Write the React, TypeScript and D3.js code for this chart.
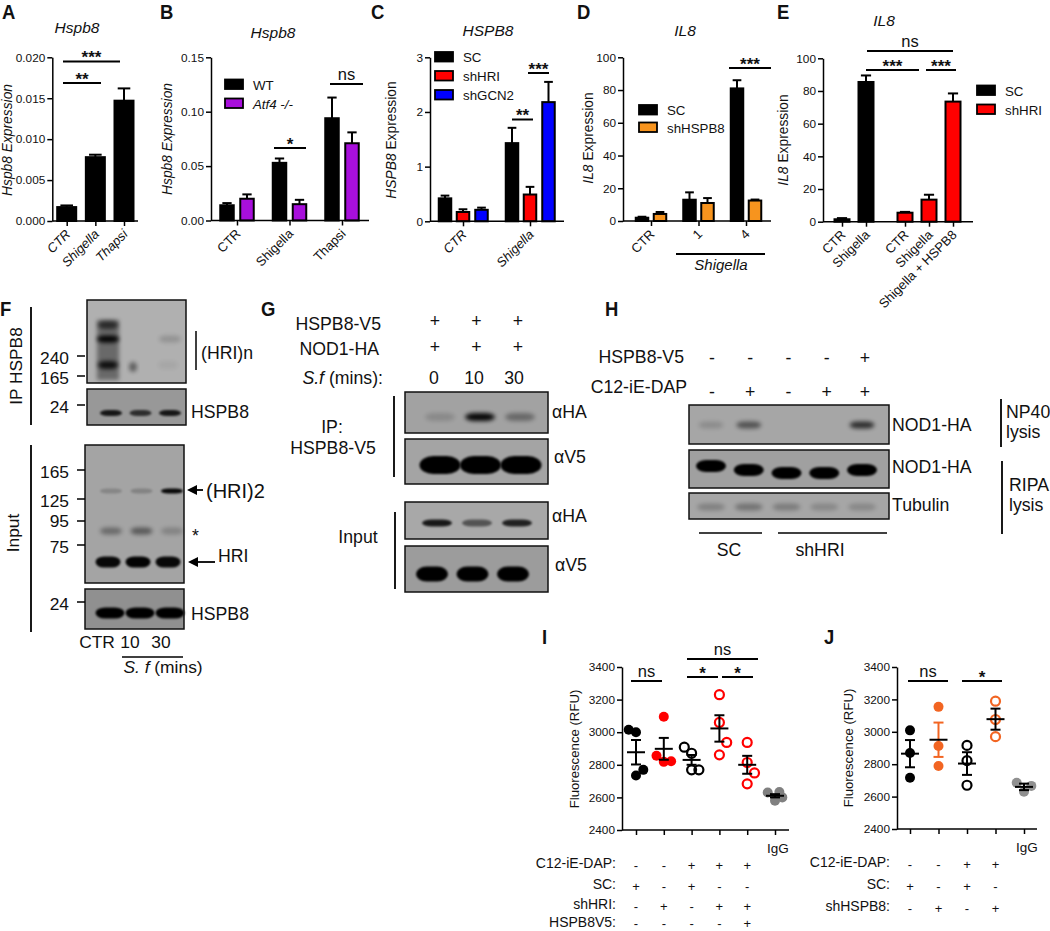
import React, { useEffect, useRef } from "react";
import * as d3 from "d3";

const FONT = "'Liberation Sans', Arial, sans-serif";
const BLOT_PX = 17.7;

// ---- bar panels ----
const aCats = ["CTR", "Shigella", "Thapsi"];
const aValues = [0.0017, 0.0078, 0.0147];
const aSem = [0.0002, 0.0003, 0.0015];
const aTicks = [0, 0.005, 0.01, 0.015, 0.02];

const bCats = ["CTR", "Shigella", "Thapsi"];
const bWT = [0.014, 0.053, 0.094];
const bWTSem = [0.002, 0.004, 0.019];
const bAtf4 = [0.02, 0.015, 0.071];
const bAtf4Sem = [0.004, 0.004, 0.01];
const bTicks = [0, 0.05, 0.1, 0.15];

const cCats = ["CTR", "Shigella"];
const cSC = [0.42, 1.43];
const cSCSem = [0.05, 0.28];
const cHRI = [0.17, 0.49];
const cHRISem = [0.05, 0.14];
const cGCN2 = [0.21, 2.18];
const cGCN2Sem = [0.04, 0.37];
const cTicks = [0, 1, 2, 3];

const dCats = ["CTR", "1", "4"];
const dSC = [2, 13, 81];
const dSCSem = [0.6, 4.5, 5];
const dHSPB8 = [4.3, 11, 12.5];
const dHSPB8Sem = [1.2, 3, 0.6];
const pctTicks = [0, 20, 40, 60, 80, 100];

const eSCCats = ["CTR", "Shigella"];
const eSC = [1.5, 85.5];
const eSCSem = [0.7, 4];
const eHRICats = ["CTR ", "Shigella ", "Shigella + HSPB8"];
const eHRI = [5.5, 13.5, 73.5];
const eHRISem = [0.5, 3, 5];

// ---- scatter panels ----
const rfuTicks = [2400, 2600, 2800, 3000, 3200, 3400];

const iPoints = [
  [3015, 3000, 2769, 2734],
  [3095, 2855, 2818, 2822],
  [2908, 2871, 2769, 2769],
  [3230, 3060, 2937, 2861],
  [2937, 2814, 2750, 2683],
  [2630, 2633, 2580, 2600],
];
const iSwarm = [
  [-1, 0, 1, 0],
  [0, -1, 0, 1],
  [-1, 0, 0, 1],
  [0, 0, 1, 0],
  [0, 0, 1, 0],
  [-1, 0.6, 0, 1],
];
const iMeans = [2877, 2898, 2830, 3023, 2800, 2610];
const iSem = [75, 67, 30, 81, 55, 10];
const iColors = ["#000000", "#ff0000", "#000000", "#ff0000", "#ff0000", "#808080"];
const iOpen = [false, false, true, true, true, false];
const iRows = [
  ["-", "-", "+", "+", "+"],
  ["+", "-", "+", "-", "-"],
  ["-", "+", "-", "+", "+"],
  ["-", "-", "-", "-", "+"],
];
const iRowLabels = ["C12-iE-DAP:", "SC:", "shHRI:", "HSPB8V5:"];

const jPoints = [
  [3009, 2869, 2716],
  [3154, 2912, 2789],
  [2916, 2822, 2670],
  [3189, 3076, 2970],
  [2685, 2630, 2666],
];
const jSwarm = [
  [0, 0, 0],
  [0, 0, 0],
  [0, 0, 0],
  [0, 0, 0],
  [-1, 0, 1],
];
const jMeans = [2865, 2951, 2804, 3078, 2660];
const jSem = [84, 106, 70, 65, 20];
const jColors = ["#000000", "#f26522", "#000000", "#f26522", "#909090"];
const jOpen = [false, false, true, true, false];
const jRows = [
  ["-", "-", "+", "+"],
  ["+", "-", "+", "-"],
  ["-", "+", "-", "+"],
];
const jRowLabels = ["C12-iE-DAP:", "SC:", "shHSPB8:"];

// ---- blot band strengths, one per lane ----
const fIpHigh = [0.6, 0, 0];
const fIpMid = [0.98, 0, 0.16];
const fIpLow = [0.85, 0, 0.05];
const fIpHspb8 = [0.85, 0.7, 0.85];
const fDimer = [0.18, 0.2, 0.95];
const fStar = [0.35, 0.45, 0.2];
const fMono = [0.95, 0.98, 0.95];
const fInHspb8 = [1, 1, 1];
const gIpHA = [0.15, 0.95, 0.35];
const gIpV5 = [1, 1, 1];
const gInHA = [0.85, 0.5, 0.8];
const gInV5 = [1, 1, 1];
const hNp40 = [0.15, 0.5, 0, 0, 0.72];
const hRipa = [1, 1, 1, 1, 1];
const hRipaShift = [-7, -3, 0, 0, -3];
const hTub = [0.22, 0.3, 0.25, 0.18, 0.18];

const line = (g: any, x1: number, y1: number, x2: number, y2: number, w = 2, c = "#000") =>
  g.append("line")
    .attr("x1", x1).attr("y1", y1).attr("x2", x2).attr("y2", y2)
    .attr("stroke", c).attr("stroke-width", w);

const label = (
  g: any, x: number, y: number, str: string, size = 13,
  anchor = "start", italic = false, weight = "normal",
) =>
  g.append("text")
    .attr("x", x).attr("y", y)
    .attr("text-anchor", anchor)
    .attr("font-size", size)
    .attr("font-style", italic ? "italic" : "normal")
    .attr("font-weight", weight)
    .attr("font-family", FONT)
    .attr("fill", "#111")
    .text(str);

// panel letters are condensed in the figure, squeeze the bold face
const letter = (g: any, x: number, y: number, s: string) =>
  label(g, 0, 0, s, 21, "start", false, "bold")
    .attr("x", null).attr("y", null)
    .attr("transform", `translate(${x},${y}) scale(0.88,1)`);

const sig = (g: any, x1: number, x2: number, y: number, txt: string) => {
  line(g, x1, y, x2, y, 2);
  if (txt === "ns") label(g, (x1 + x2) / 2, y - 4, txt, 16.5, "middle");
  else label(g, (x1 + x2) / 2, y + 1.7, txt, 17, "middle", false, "bold");
};

// vertical axis title, parts are [text, italic]
const yTitle = (g: any, x: number, y: number, parts: [string, boolean][], size = 13.8) => {
  const t = g.append("text")
    .attr("transform", `translate(${x},${y}) rotate(-90)`)
    .attr("text-anchor", "middle")
    .attr("font-size", size)
    .attr("font-family", FONT)
    .attr("fill", "#111");
  parts.forEach(([s, it]) =>
    t.append("tspan").attr("font-style", it ? "italic" : "normal").text(s));
};

const leftAxis = (g: any, y: any, x: number, ticks: number[], fmt: any, size = 11.8) => {
  const ax = g.append("g")
    .attr("transform", `translate(${x},0)`)
    .call(d3.axisLeft(y).tickValues(ticks).tickFormat(fmt).tickSize(5).tickSizeOuter(0).tickPadding(2));
  ax.select(".domain").attr("stroke", "#000").attr("stroke-width", 1.5);
  ax.selectAll("line").attr("stroke", "#000").attr("stroke-width", 1.5);
  ax.selectAll("text").attr("font-size", size).attr("font-family", FONT).attr("fill", "#111");
  return ax;
};

const bottomTicks = (g: any, x: any, y0: number, italic = false, rotated = true, size = 13) => {
  const ax = g.append("g")
    .attr("transform", `translate(0,${y0})`)
    .call(d3.axisBottom(x).tickSize(5).tickSizeOuter(0));
  ax.select(".domain").remove();
  ax.selectAll("line").attr("stroke", "#000").attr("stroke-width", 1.5);
  const txt = ax.selectAll("text")
    .attr("font-size", size)
    .attr("font-family", FONT)
    .attr("font-style", italic ? "italic" : "normal")
    .attr("fill", "#111");
  if (rotated)
    txt.attr("x", 0).attr("y", 0).attr("dy", 0)
      .attr("text-anchor", "end")
      .attr("transform", "translate(4,14) rotate(-45)");
  return ax;
};

const bars = (g: any, x: any, y: any, cats: string[], vals: number[], sem: number[], fill: string, w: number, shift = 0) => {
  const y0 = y(0);
  cats.forEach((c, i) => {
    const cx = x(c) + shift;
    line(g, cx, y(vals[i]), cx, y(vals[i] + sem[i]), 2);
    line(g, cx - w * 0.3, y(vals[i] + sem[i]), cx + w * 0.3, y(vals[i] + sem[i]), 2);
    g.append("rect")
      .attr("x", cx - w / 2 + 1).attr("y", y(vals[i]))
      .attr("width", w - 2).attr("height", y0 - y(vals[i]))
      .attr("fill", fill).attr("stroke", "#000").attr("stroke-width", 2);
  });
};

const legend = (g: any, x: number, ys: number[], names: string[], fills: string[], italics: boolean[] = [], size = 13.3) => {
  names.forEach((n, i) => {
    g.append("rect")
      .attr("x", x).attr("y", ys[i]).attr("width", 18).attr("height", 9.5)
      .attr("fill", fills[i]).attr("stroke", "#000").attr("stroke-width", 1.8);
    label(g, x + 28, ys[i] + 10, n, size, "start", !!italics[i]);
  });
};

// grey film rectangle with blurred bands
let clipN = 0;
const blot = (root: any, x: number, y: number, w: number, h: number, bg: string) => {
  const id = `blot${clipN++}`;
  root.select("defs").append("clipPath").attr("id", id)
    .append("rect").attr("x", x).attr("y", y).attr("width", w).attr("height", h);
  const g = root.append("g");
  g.append("rect").attr("x", x).attr("y", y).attr("width", w).attr("height", h).attr("fill", bg);
  const inner = g.append("g").attr("clip-path", `url(#${id})`);
  g.append("rect").attr("x", x).attr("y", y).attr("width", w).attr("height", h)
    .attr("fill", "none").attr("stroke", "#111").attr("stroke-width", 1.5);
  return inner;
};

const bandRow = (g: any, lanes: number[], cy: number, strengths: number[], bw: number, bh: number, blur = "b1", shift: number[] = []) => {
  const x = d3.scalePoint<number>().domain(strengths.map((_, i) => i)).range(lanes as [number, number]);
  strengths.forEach((s, i) => {
    if (s <= 0) return;
    g.append("rect")
      .attr("x", (x(i) as number) - bw / 2)
      .attr("y", cy - bh / 2 + (shift[i] || 0))
      .attr("width", bw).attr("height", bh)
      .attr("rx", bw / 3).attr("ry", bh / 2)
      .attr("fill", "#000").attr("opacity", s)
      .attr("filter", `url(#${blur})`);
  });
};

const signRow = (g: any, x: any, cats: any[], row: string[], cy: number, size = 13) => {
  row.forEach((s, i) => {
    label(g, x(cats[i]), cy, s, size, "middle").attr("dy", "0.35em");
  });
};

const scatter = (g: any, x: any, y: any, points: number[][], swarm: number[][], means: number[], sem: number[], colors: string[], open: boolean[]) => {
  const step = 7.3;
  points.forEach((pts, k) => {
    const cx = x(k);
    pts.forEach((v, j) => {
      const o = open[k];
      g.append("circle")
        .attr("cx", cx + swarm[k][j] * step).attr("cy", y(v))
        .attr("r", o ? 4.5 : 5)
        .attr("fill", o ? "none" : colors[k])
        .attr("stroke", o ? colors[k] : "none")
        .attr("stroke-width", 2.2);
    });
    const ec = colors[k] === "#f26522" && !open[k] ? colors[k] : "#000";
    line(g, cx, y(means[k] - sem[k]), cx, y(means[k] + sem[k]), 2, ec);
    line(g, cx - 5, y(means[k] + sem[k]), cx + 5, y(means[k] + sem[k]), 2, ec);
    line(g, cx - 5, y(means[k] - sem[k]), cx + 5, y(means[k] - sem[k]), 2, ec);
    line(g, cx - 9, y(means[k]), cx + 9, y(means[k]), 2, "#000");
  });
};

function draw(svgEl: SVGSVGElement) {
  clipN = 0;
  const svg = d3.select(svgEl);
  svg.selectAll("*").remove();
  const defs = svg.append("defs");
  [["b1", 1.2], ["b2", 2.2], ["b3", 3]].forEach(([id, s]) =>
    defs.append("filter").attr("id", id as string)
      .attr("x", "-30%").attr("y", "-60%").attr("width", "160%").attr("height", "220%")
      .append("feGaussianBlur").attr("stdDeviation", s as number));
  const root = svg.append("g");

  // A
  letter(root, 2, 19, "A");
  label(root, 77, 33, "Hspb8", 15.5, "middle", true);
  {
    const y = d3.scaleLinear().domain([0, 0.02]).range([221, 57.3]);
    const x = d3.scalePoint<string>().domain(aCats).range([66.7, 124]);
    bars(root, x, y, aCats, aValues, aSem, "#000", 21);
    line(root, 52.3, 221, 138, 221, 1.5);
    leftAxis(root, y, 52.3, aTicks, d3.format(".3f"));
    bottomTicks(root, x, 221, true);
    yTitle(root, 12, 140, [["Hspb8 Expression", true]]);
    sig(root, 63, 120, 61.5, "***");
    sig(root, 63, 101, 83, "**");
  }

  // B
  letter(root, 160, 19, "B");
  label(root, 273, 38, "Hspb8", 15.5, "middle", true);
  {
    const y = d3.scaleLinear().domain([0, 0.15]).range([220.5, 57.3]);
    const x = d3.scalePoint<string>().domain(bCats).range([237, 342]);
    bars(root, x, y, bCats, bWT, bWTSem, "#000", 15.5, -10);
    bars(root, x, y, bCats, bAtf4, bAtf4Sem, "#a80fdc", 15.5, 10);
    line(root, 211, 220.5, 369, 220.5, 1.5);
    leftAxis(root, y, 211, bTicks, d3.format(".2f"));
    bottomTicks(root, x, 220.5);
    yTitle(root, 172, 139, [["Hspb8 Expression", true]]);
    legend(root, 225, [79.5, 98.5], ["WT", "Atf4 -/-"], ["#000", "#a80fdc"], [false, true]);
    sig(root, 274, 306, 148, "*");
    sig(root, 330, 363, 84, "ns");
  }

  // C
  letter(root, 371, 19, "C");
  label(root, 488, 36, "HSPB8", 15.5, "middle", true);
  {
    const y = d3.scaleLinear().domain([0, 3]).range([221.3, 57.3]);
    const x = d3.scalePoint<string>().domain(cCats).range([463, 530]);
    bars(root, x, y, cCats, cSC, cSCSem, "#000", 14.5, -18);
    bars(root, x, y, cCats, cHRI, cHRISem, "#ff0000", 14.5, 0);
    bars(root, x, y, cCats, cGCN2, cGCN2Sem, "#0000ff", 14.5, 18.5);
    line(root, 430, 221.3, 564, 221.3, 1.5);
    leftAxis(root, y, 430, cTicks, d3.format("d"));
    bottomTicks(root, x, 221.3, true);
    yTitle(root, 396, 140, [["HSPB8", true], [" Expression", false]]);
    legend(root, 435, [52, 71, 90], ["SC", "shHRI", "shGCN2"], ["#000", "#ff0000", "#0000ff"]);
    sig(root, 512, 533, 119.5, "**");
    sig(root, 528, 549, 73, "***");
  }

  // D
  letter(root, 577, 19, "D");
  label(root, 685, 36, "IL8", 15.5, "middle", true);
  {
    const y = d3.scaleLinear().domain([0, 100]).range([221, 57.3]);
    const x = d3.scalePoint<string>().domain(dCats).range([651, 746]);
    bars(root, x, y, dCats, dSC, dSCSem, "#000", 14.5, -9);
    bars(root, x, y, dCats, dHSPB8, dHSPB8Sem, "#f7941e", 14.5, 9);
    line(root, 623, 221, 771, 221, 1.5);
    leftAxis(root, y, 623, pctTicks, d3.format("d"));
    bottomTicks(root, x, 221);
    yTitle(root, 593, 138, [["IL8", true], [" Expression", false]]);
    legend(root, 639, [105, 122.5], ["SC", "shHSPB8"], ["#000", "#f7941e"]);
    sig(root, 729, 771, 68, "***");
    line(root, 676, 254, 765, 254, 2);
    label(root, 721, 270, "Shigella", 15, "middle", true);
  }

  // E
  letter(root, 777, 19, "E");
  label(root, 884, 26, "IL8", 15.5, "middle", true);
  {
    const y = d3.scaleLinear().domain([0, 100]).range([221.7, 58.3]);
    const xSC = d3.scalePoint<string>().domain(eSCCats).range([842, 866]);
    const xHRI = d3.scalePoint<string>().domain(eHRICats).range([905, 953]);
    bars(root, xSC, y, eSCCats, eSC, eSCSem, "#000", 17);
    bars(root, xHRI, y, eHRICats, eHRI, eHRISem, "#ff0000", 17);
    line(root, 823, 221.7, 973, 221.7, 1.5);
    leftAxis(root, y, 823, pctTicks, d3.format("d"));
    bottomTicks(root, xSC, 221.7);
    bottomTicks(root, xHRI, 221.7);
    yTitle(root, 788, 140, [["IL8", true], [" Expression", false]]);
    legend(root, 977, [85.5, 104.5], ["SC", "shHRI"], ["#000", "#ff0000"]);
    sig(root, 867, 953, 51, "ns");
    sig(root, 866, 919, 70, "***");
    sig(root, 926, 956, 70, "***");
  }

  // F
  letter(root, 0, 316, "F");
  {
    const f1 = blot(root, 87, 300, 99, 83, "#b0b0b0");
    f1.append("rect").attr("x", 97).attr("y", 320).attr("width", 22).attr("height", 60)
      .attr("fill", "#000").attr("opacity", 0.4).attr("filter", "url(#b2)");
    bandRow(f1, [108, 168], 325, fIpHigh, 20, 8, "b2");
    bandRow(f1, [108, 170], 339, fIpMid, 22, 7, "b2");
    bandRow(f1, [108, 168], 365, fIpLow, 20, 8, "b2");
    f1.append("ellipse").attr("cx", 133).attr("cy", 367).attr("rx", 4).attr("ry", 5)
      .attr("fill", "#000").attr("opacity", 0.45).attr("filter", "url(#b2)");
    const f2 = blot(root, 87, 389, 99, 36, "#989898");
    bandRow(f2, [111, 170], 413, fIpHspb8, 22, 6, "b1");
    const f3 = blot(root, 85, 445, 99, 138, "#a4a4a4");
    bandRow(f3, [111, 172], 491, fDimer, 22, 5, "b1");
    bandRow(f3, [111, 172], 531, fStar, 22, 7, "b2");
    bandRow(f3, [108, 168], 562, fMono, 25, 11, "b1");
    const f4 = blot(root, 85, 589, 99, 40, "#909090");
    bandRow(f4, [110, 170], 613, fInHspb8, 29, 11, "b1");

    line(root, 31, 307, 31, 425, 1.8);
    line(root, 31, 445, 31, 632, 1.8);
    yTitle(root, 22, 366, [["IP HSPB8", false]], 17.3);
    yTitle(root, 19, 533, [["Input", false]], 17.3);
    const mw: [string, number, number][] = [
      ["240", 364, 356], ["165", 384, 376], ["24", 413, 405],
      ["165", 478, 470], ["125", 507, 499], ["95", 527, 521],
      ["75", 553, 545], ["24", 610, 602],
    ];
    mw.forEach(([s, by, ty]) => {
      label(root, 69, by, s, 17.4, "end");
      line(root, 77, ty, 85, ty, 1.5);
    });
    label(root, 201, 359, "(HRI)n", BLOT_PX);
    line(root, 196, 331, 196, 370, 1.5);
    label(root, 191, 418, "HSPB8", BLOT_PX);
    label(root, 191, 620, "HSPB8", BLOT_PX);
    label(root, 206, 498, "(HRI)2", 20);
    label(root, 218, 562, "HRI", BLOT_PX);
    label(root, 192, 542, "*", BLOT_PX);
    line(root, 195, 490, 203, 490, 1.8);
    root.append("path").attr("d", "M187,490 L197,485 L197,495 Z").attr("fill", "#000");
    line(root, 195, 562, 215, 562, 1.8);
    root.append("path").attr("d", "M188,562 L198,557 L198,567 Z").attr("fill", "#000");
    label(root, 97, 648, "CTR", 17.4, "middle");
    label(root, 130, 648, "10", 17.4, "middle");
    label(root, 161, 648, "30", 17.4, "middle");
    line(root, 122, 657, 183, 657, 1.5);
    const sf = label(root, 163, 673, "", 17.4, "middle");
    sf.append("tspan").attr("font-style", "italic").text("S. f");
    sf.append("tspan").text(" (mins)");
  }

  // G
  letter(root, 261, 316, "G");
  {
    const g1 = blot(root, 405, 392, 143, 41, "#a2a2a2");
    bandRow(g1, [440, 520], 417, gIpHA, 30, 8, "b2");
    const g2 = blot(root, 405, 439, 143, 45, "#a4a4a4");
    bandRow(g2, [440, 521], 465, gIpV5, 41, 18, "b1");
    const g3 = blot(root, 405, 502, 143, 37, "#a8a8a8");
    bandRow(g3, [437, 517], 523, gInHA, 30, 7, "b1");
    const g4 = blot(root, 405, 546, 143, 46, "#9c9c9c");
    bandRow(g4, [432, 513], 574, gInV5, 32, 15, "b1");

    label(root, 381, 330, "HSPB8-V5", BLOT_PX, "end");
    label(root, 379, 355, "NOD1-HA", BLOT_PX, "end");
    const sf = label(root, 383, 384, "", BLOT_PX, "end");
    sf.append("tspan").attr("font-style", "italic").text("S.f");
    sf.append("tspan").text(" (mins):");
    const xPlus = d3.scalePoint<number>().domain([0, 1, 2]).range([435, 518]);
    signRow(root, xPlus, [0, 1, 2], ["+", "+", "+"], 321, BLOT_PX);
    signRow(root, xPlus, [0, 1, 2], ["+", "+", "+"], 347, BLOT_PX);
    const xMin = d3.scalePoint<number>().domain([0, 10, 30]).range([434, 514]);
    [0, 10, 30].forEach((m) => label(root, xMin(m) as number, 384, String(m), BLOT_PX, "middle"));
    line(root, 394, 396, 394, 477, 1.8);
    line(root, 395, 512, 395, 589, 1.8);
    label(root, 332, 433, "IP:", BLOT_PX, "middle");
    label(root, 333, 454, "HSPB8-V5", BLOT_PX, "middle");
    label(root, 358, 543, "Input", BLOT_PX, "middle");
    label(root, 552, 418, "αHA", BLOT_PX);
    label(root, 554, 463, "αV5", BLOT_PX);
    label(root, 552, 522, "αHA", BLOT_PX);
    label(root, 555, 571, "αV5", BLOT_PX);
  }

  // H
  letter(root, 605, 316, "H");
  {
    const lanes = [711, 862];
    const h1 = blot(root, 689, 405, 200, 39, "#a6a6a6");
    bandRow(h1, lanes, 425, hNp40, 25, 7, "b2");
    const h2 = blot(root, 689, 450, 200, 38, "#a0a0a0");
    bandRow(h2, lanes, 473, hRipa, 30, 12, "b1", hRipaShift);
    const h3 = blot(root, 689, 493, 200, 26, "#a6a6a6");
    bandRow(h3, lanes, 507, hTub, 28, 7, "b2");

    label(root, 684, 363, "HSPB8-V5", BLOT_PX, "end");
    label(root, 687, 393, "C12-iE-DAP", BLOT_PX, "end");
    const xs = d3.scalePoint<number>().domain([0, 1, 2, 3, 4]).range([712, 865]);
    signRow(root, xs, [0, 1, 2, 3, 4], ["-", "-", "-", "-", "+"], 358, BLOT_PX);
    signRow(root, xs, [0, 1, 2, 3, 4], ["-", "+", "-", "+", "+"], 392, BLOT_PX);
    label(root, 892, 431, "NOD1-HA", BLOT_PX);
    label(root, 892, 473, "NOD1-HA", BLOT_PX);
    label(root, 892, 511, "Tubulin", BLOT_PX);
    label(root, 1006, 418, "NP40", BLOT_PX);
    label(root, 1006, 438, "lysis", BLOT_PX);
    label(root, 1009, 491, "RIPA", BLOT_PX);
    label(root, 1009, 511, "lysis", BLOT_PX);
    line(root, 1001, 399, 1001, 447, 1.8);
    line(root, 1002, 461, 1002, 534, 1.8);
    line(root, 699, 533, 762, 533, 1.5);
    line(root, 778, 533, 887, 533, 1.5);
    label(root, 729, 556, "SC", BLOT_PX, "middle");
    label(root, 820, 556, "shHRI", BLOT_PX, "middle");
  }

  // I
  letter(root, 542, 644, "I");
  {
    const y = d3.scaleLinear().domain([2400, 3400]).range([830, 667]);
    const x = d3.scalePoint<number>().domain(iPoints.map((_, i) => i)).range([636, 775]);
    scatter(root, x, y, iPoints, iSwarm, iMeans, iSem, iColors, iOpen);
    line(root, 622, 830, 789, 830, 1.5);
    leftAxis(root, y, 622, rfuTicks, d3.format("d"));
    const t = bottomTicks(root, x, 830, false, false);
    t.selectAll("text").remove();
    yTitle(root, 579, 749, [["Fluorescence (RFU)", false]], 13.2);
    label(root, 778, 853, "IgG", 13.5, "middle");
    const cats = [0, 1, 2, 3, 4];
    iRowLabels.forEach((s, i) => {
      const by = [868, 889, 909, 927][i];
      label(root, 616, by, s, 14, "end");
      signRow(root, x, cats, iRows[i], [865, 886, 906, 923][i], 13);
    });
    sig(root, 631, 662, 681, "ns");
    sig(root, 687, 758, 659, "ns");
    sig(root, 687, 718, 677, "*");
    sig(root, 722, 753, 677, "*");
  }

  // J
  letter(root, 824, 644, "J");
  {
    const y = d3.scaleLinear().domain([2400, 3400]).range([829, 667]);
    const x = d3.scalePoint<number>().domain(jPoints.map((_, i) => i)).range([910, 1024]);
    scatter(root, x, y, jPoints, jSwarm, jMeans, jSem, jColors, jOpen);
    line(root, 897, 829, 1037, 829, 1.5);
    leftAxis(root, y, 897, rfuTicks, d3.format("d"));
    const t = bottomTicks(root, x, 829, false, false);
    t.selectAll("text").remove();
    yTitle(root, 853, 748, [["Fluorescence (RFU)", false]], 13.2);
    label(root, 1027, 852, "IgG", 13.5, "middle");
    const cats = [0, 1, 2, 3];
    jRowLabels.forEach((s, i) => {
      const by = [867, 889, 911][i];
      label(root, 890, by, s, 14, "end");
      signRow(root, x, cats, jRows[i], by - 3, 13);
    });
    sig(root, 908, 948, 681, "ns");
    sig(root, 962, 1002, 681, "*");
  }
}

export default function App() {
  const ref = useRef<SVGSVGElement>(null);
  useEffect(() => {
    if (ref.current) draw(ref.current);
  }, []);
  return (
    <svg
      ref={ref}
      width={1050}
      height={931}
      style={{ position: "absolute", left: 0, top: 0, background: "#fff" }}
    />
  );
}
